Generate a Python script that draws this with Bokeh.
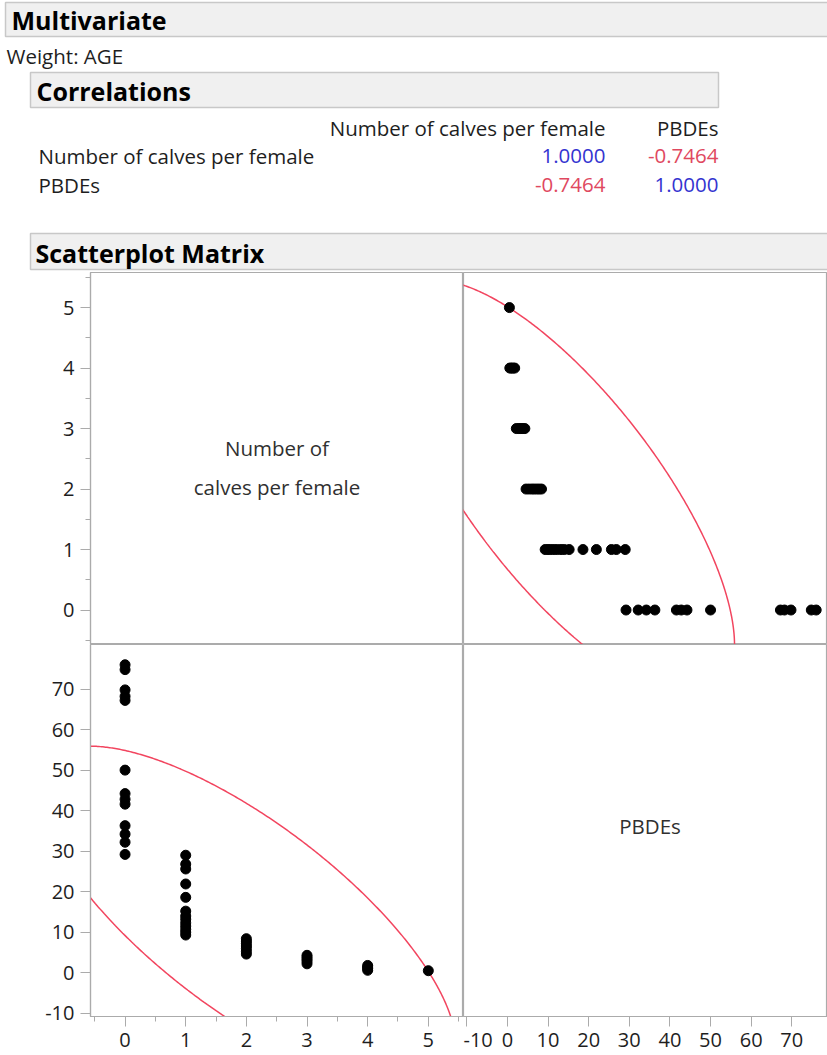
import numpy as np
from bokeh.plotting import figure
from bokeh.layouts import column, gridplot
from bokeh.models import Range1d, SingleIntervalTicker, FixedTicker, PrintfTickFormatter
from bokeh.core.properties import value
from bokeh.embed import file_html
from bokeh.resources import INLINE

# ---------------- data ----------------
var_names = ["Number of calves per female", "PBDEs"]
corr_row_calves = [1.0000, -0.7464]
corr_row_pbdes = [-0.7464, 1.0000]

calves_levels = [5, 4, 3, 2, 1, 0]
pbde_c5 = [0.5]
pbde_c4 = [0.6, 1.0, 1.4, 1.8]
pbde_c3 = [2.2, 2.8, 3.3, 3.8, 4.3]
pbde_c2 = [4.6, 5.3, 6.0, 6.6, 7.2, 7.8, 8.4]
pbde_c1 = [9.3, 10.0, 10.7, 11.5, 12.3, 13.2, 14.0, 15.2, 18.6, 21.9, 25.6, 26.8, 29.0]
pbde_c0 = [29.2, 32.2, 34.2, 36.3, 41.6, 42.8, 44.2, 50.0, 67.2, 68.2, 69.8, 74.8, 76.0]

# 95% density ellipse parameters (weighted by AGE)
ell_mean_pbde = 13.8
ell_mean_calves = 2.0
ell_sd_pbde = 17.2
ell_sd_calves = 1.41
ell_r = corr_row_calves[1]
ell_level = 0.95

pbde_ticks = [-10, 0, 10, 20, 30, 40, 50, 60, 70]

# ---------------- derived ----------------
groups = [pbde_c5, pbde_c4, pbde_c3, pbde_c2, pbde_c1, pbde_c0]
calves = []
pbdes = []
for lvl, vals in zip(calves_levels, groups):
    calves += [lvl] * len(vals)
    pbdes += vals

c2 = -2.0 * np.log(1.0 - ell_level)
t = np.linspace(0, 2 * np.pi, 721)
ell_pbde = ell_mean_pbde + np.sqrt(c2) * ell_sd_pbde * np.cos(t)
ell_calves = ell_mean_calves + np.sqrt(c2) * ell_sd_calves * (
    ell_r * np.cos(t) + np.sqrt(1 - ell_r ** 2) * np.sin(t))

# ---------------- layout geometry ----------------
W = 827
LEFT_BORDER = 90
CELL_W = 373
CELL_H = 372
RIGHT_W = W - LEFT_BORDER - CELL_W
HDR_H = 272
BOTTOM_AX = 39

calves_lo, calves_hi = -0.57, 5.58
pbde_lo, pbde_hi = -10.8, 81.0
pbde_hi_vis = pbde_lo + (pbde_hi - pbde_lo) * RIGHT_W / CELL_W

FONT = "Open Sans"
GRAY = "#ababab"
TXT = "#1e1e1e"
RED = "#f2455f"
BLUE = "#3434d0"
NEG = "#e04860"


def base_fig(width, height, xr, yr, xloc, yloc, mbl, mbb):
    p = figure(width=width, height=height, x_range=Range1d(*xr), y_range=Range1d(*yr),
               x_axis_location=xloc, y_axis_location=yloc, toolbar_location=None,
               output_backend="svg", min_border_left=mbl, min_border_bottom=mbb,
               min_border_top=0, min_border_right=0, outline_line_color=GRAY,
               outline_line_width=1.2, background_fill_color="white",
               border_fill_color="white")
    p.grid.visible = False
    for ax in p.axis:
        ax.axis_line_color = GRAY
        ax.axis_line_width = 1.2
        ax.major_tick_line_color = GRAY
        ax.minor_tick_line_color = GRAY
        ax.major_tick_in = 0
        ax.major_tick_out = 10
        ax.minor_tick_in = 0
        ax.minor_tick_out = 5
        ax.major_label_text_font = FONT
        ax.major_label_text_font_size = "20px"
        ax.major_label_text_color = TXT
        ax.major_label_standoff = 6
    return p


# ---------------- header ----------------
hdr = figure(width=W, height=HDR_H, x_range=Range1d(0, W), y_range=Range1d(HDR_H, 0),
             x_axis_location=None, y_axis_location=None, toolbar_location=None,
             output_backend="svg", min_border=0, outline_line_color=None)
hdr.grid.visible = False
hdr.quad(left=[5, 30, 30], right=[W + 5, 718, W + 5], top=[2, 72, 233],
         bottom=[36, 107, 269], fill_color="#f0f0f0", line_color="#c8c8c8", line_width=1.5)
hdr.text(x=[11, 36, 35], y=[19, 90, 252], text=["Multivariate", "Correlations", "Scatterplot Matrix"],
         text_font=value(FONT), text_font_style="bold", text_font_size="25px",
         text_baseline="middle", text_color="black")
hdr.text(x=[6], y=[55], text=["Weight: AGE"], text_font=value(FONT), text_font_size="20.5px",
         text_baseline="middle", text_color=TXT)
# table
col_right = [605, 718]
row_y = [155, 184]
hdr.text(x=col_right, y=[127, 127], text=var_names, text_font=value(FONT),
         text_font_size="20.5px", text_baseline="middle", text_align="right", text_color=TXT)
hdr.text(x=[38, 38], y=row_y, text=var_names, text_font=value(FONT),
         text_font_size="20.5px", text_baseline="middle", text_color=TXT)
vals_x, vals_y, vals_t, vals_c = [], [], [], []
for ry, row in zip(row_y, [corr_row_calves, corr_row_pbdes]):
    for cx, v in zip(col_right, row):
        vals_x.append(cx)
        vals_y.append(ry)
        vals_t.append(f"{v:.4f}")
        vals_c.append(BLUE if v > 0 else NEG)
hdr.text(x=vals_x, y=vals_y, text=vals_t, text_color=vals_c, text_font=value(FONT),
         text_font_size="20.5px", text_baseline="middle", text_align="right")

# ---------------- scatterplot matrix ----------------
tl = base_fig(LEFT_BORDER + CELL_W, CELL_H, (calves_lo, calves_hi), (calves_lo, calves_hi),
              None, "left", LEFT_BORDER, 0)
tl.yaxis.ticker = SingleIntervalTicker(interval=1, num_minor_ticks=2)
cmid = (calves_lo + calves_hi) / 2
tl.text(x=[cmid, cmid], y=[cmid, cmid], text=["Number of", "calves per female"],
        y_offset=[-11, 28], text_font=value(FONT), text_font_size="20.5px",
        text_align="center", text_baseline="middle", text_color="#303030")

tr = base_fig(RIGHT_W, CELL_H, (pbde_lo, pbde_hi_vis), (calves_lo, calves_hi), None, None, 0, 0)
tr.line(ell_pbde, ell_calves, line_color=RED, line_width=1.5)
tr.scatter(pbdes, calves, size=10, color="black")

bl = base_fig(LEFT_BORDER + CELL_W, CELL_H + BOTTOM_AX, (calves_lo, calves_hi), (pbde_lo, pbde_hi),
              "below", "left", LEFT_BORDER, BOTTOM_AX)
bl.xaxis.ticker = SingleIntervalTicker(interval=1, num_minor_ticks=2)
bl.yaxis.ticker = FixedTicker(ticks=pbde_ticks)
bl.yaxis.formatter = PrintfTickFormatter(format="%d")
bl.line(ell_calves, ell_pbde, line_color=RED, line_width=1.5)
bl.scatter(calves, pbdes, size=10, color="black")

br = base_fig(RIGHT_W, CELL_H + BOTTOM_AX, (pbde_lo, pbde_hi_vis), (pbde_lo, pbde_hi),
              "below", None, 0, BOTTOM_AX)
br.xaxis.ticker = FixedTicker(ticks=pbde_ticks)
br.xaxis.formatter = PrintfTickFormatter(format="%d")
pmid = (pbde_lo + pbde_hi) / 2
br.text(x=[pmid], y=[pmid], text=["PBDEs"], y_offset=[-5], text_font=value(FONT),
        text_font_size="20.5px", text_align="center", text_baseline="middle", text_color="#303030")

grid = gridplot([[tl, tr], [bl, br]], toolbar_location=None)
layout = column(hdr, grid)

open("out.html", "w").write(file_html(layout, INLINE))
